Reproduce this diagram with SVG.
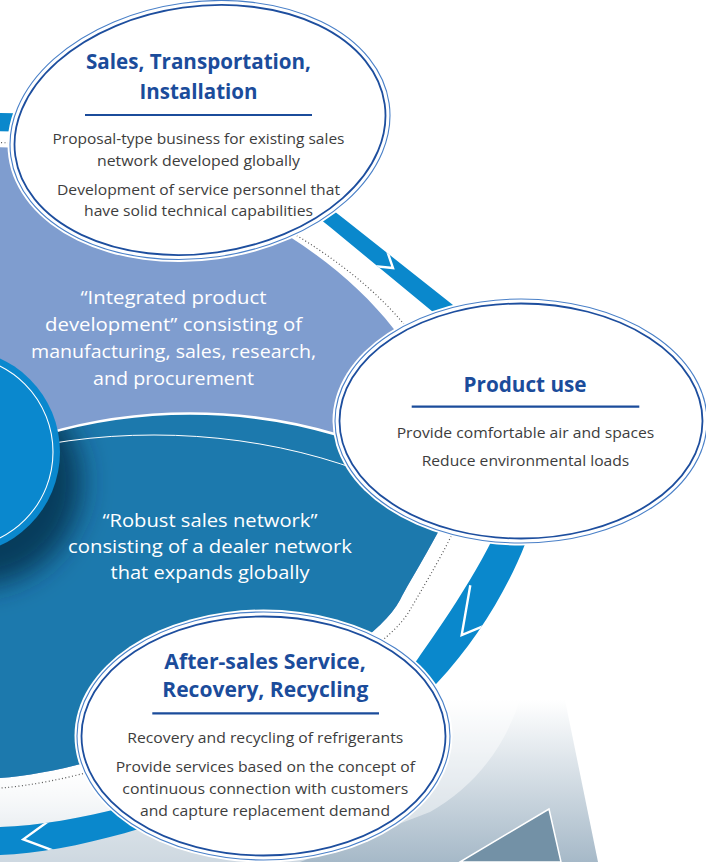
<svg xmlns="http://www.w3.org/2000/svg" width="706" height="862" viewBox="0 0 706 862">
<defs>
<style>
.ttl{font-family:"Open Sans","Noto Sans","Liberation Sans",sans-serif;font-weight:700;font-size:22px;fill:#1B4C9B;text-anchor:middle}
.bd{font-family:"Open Sans","Noto Sans","Liberation Sans",sans-serif;font-weight:400;font-size:15px;fill:#3d3d3d;text-anchor:middle}
.wt{font-family:"Open Sans","Noto Sans","Liberation Sans",sans-serif;font-weight:400;font-size:17.5px;fill:#ffffff;text-anchor:middle}
.rule{stroke:#1B4C9B;stroke-width:2.2}
.halo{fill:#ffffff}
.ro{fill:none;stroke:#4A80C8;stroke-width:1.1}
.ri{fill:none;stroke:#1D4E9E;stroke-width:1.8}
.chev{fill:none;stroke:#ffffff;stroke-width:2.4;stroke-linejoin:miter}
</style>
<linearGradient id="lowbg" gradientUnits="userSpaceOnUse" x1="0" y1="700" x2="0" y2="862">
<stop offset="0" stop-color="#ffffff"/><stop offset="1" stop-color="#A6B9C8"/>
</linearGradient>
<linearGradient id="gapFade" gradientUnits="userSpaceOnUse" x1="0" y1="770" x2="0" y2="835">
<stop offset="0" stop-color="#ffffff" stop-opacity="1"/><stop offset="1" stop-color="#ffffff" stop-opacity="0.4"/>
</linearGradient>
<clipPath id="cDisk"><path d="M -100,150 L -60,150 C 110,130 305,215 393,328 C 423.7,367.5 466,400 466,450 C 466,495 418,565 400,600 C 363,671 120,770 0,778 L -100,780 Z"/></clipPath>
<clipPath id="cDark"><ellipse cx="190" cy="713.5" rx="397" ry="300"/></clipPath>
<clipPath id="cBand"><path clip-rule="evenodd" d="M -100,114 L -60,114 C 40,110 130,118 200,138 C 257.6,154.2 303.8,187 343,218 L 453,305 C 492,336 540,410 540,480 C 540,530 495,622 437,683 C 388.7,733.4 150,850 0,855 L -100,858 Z M -100,132 L -60,132 C 40,128 130,137 195,157 C 247.6,173.2 295.4,198.4 330,227 L 433,312 C 471.5,343.8 512,410 512,478 C 512,525 443,623 417,660 C 374,722 150,822 0,827 L -100,830 Z"/></clipPath>
<filter id="blur" x="-60%" y="-60%" width="220%" height="220%"><feGaussianBlur stdDeviation="14"/></filter>
</defs>

<!-- lower background -->
<path d="M -20,700 L 565,700 L 598,862 L -20,862 Z" fill="url(#lowbg)"/>
<path d="M 520,700 Q 495,775 430,812 L 300,862 L -20,862 L -20,700 Z" fill="#ffffff" fill-opacity="0.45"/>
<path d="M 460,862 L 549,809 L 561,862 Z" fill="#7391A6" stroke="#ffffff" stroke-width="1.5"/>

<!-- gap area inside ring -->
<path d="M -100,132 L -60,132 C 40,128 130,137 195,157 C 247.6,173.2 295.4,198.4 330,227 L 433,312 C 471.5,343.8 512,410 512,478 C 512,525 443,623 417,660 C 374,722 150,822 0,827 L -100,830 Z" fill="url(#gapFade)"/>

<g id="connectors">
<path fill="#0A88CC" fill-rule="evenodd" d="M -100,114 L -60,114 C 40,110 130,118 200,138 C 257.6,154.2 303.8,187 343,218 L 453,305 C 492,336 540,410 540,480 C 540,530 495,622 437,683 C 388.7,733.4 150,850 0,855 L -100,858 Z M -100,132 L -60,132 C 40,128 130,137 195,157 C 247.6,173.2 295.4,198.4 330,227 L 433,312 C 471.5,343.8 512,410 512,478 C 512,525 443,623 417,660 C 374,722 150,822 0,827 L -100,830 Z"/>
<g clip-path="url(#cBand)">
<polyline class="chev" points="384.5,243.4 393,268 367.1,265.4"/>
<polyline class="chev" points="470.3,585.2 461.7,635 498.5,619.8"/>
<polyline class="chev" points="58,814.2 23.3,839.3 60.2,853.2"/>
</g>
</g>

<!-- inner disk -->
<g id="disk">
<path fill="#7F9DCF" d="M -100,150 L -60,150 C 110,130 305,215 393,328 C 423.7,367.5 466,400 466,450 C 466,495 418,565 400,600 C 363,671 120,770 0,778 L -100,780 Z"/>
<g clip-path="url(#cDisk)">
<ellipse cx="190" cy="713.5" rx="397" ry="300" fill="#1C79AD"/>
<g clip-path="url(#cDark)">
<circle cx="-22" cy="482" r="104" fill="#062640" fill-opacity="0.75" filter="url(#blur)"/>
<ellipse cx="154" cy="735" rx="436" ry="300" fill="none" stroke="#ffffff" stroke-width="1"/>
</g>
<ellipse cx="190" cy="713.5" rx="397" ry="300" fill="none" stroke="#ffffff" stroke-width="2.6"/>
</g>
<path d="M -60,145 C 110,125 318,222 402,322 C 431,356.5 479,400 479,450 C 479,497 430,575 410,610 C 370,680 120,780 0,788 L -60,790" fill="none" stroke="#555555" stroke-width="1.2" stroke-dasharray="1 2.4"/>
</g>

<g id="node-center">
<circle cx="-43" cy="452" r="103" fill="#0A88CE"/>
<circle cx="-43" cy="452" r="96" fill="none" stroke="#ffffff" stroke-width="1.1"/>
</g>

<g id="node-integrated">
<text class="wt" x="173.5" y="304" textLength="186" lengthAdjust="spacingAndGlyphs">“Integrated product</text>
<text class="wt" x="173.5" y="331" textLength="257" lengthAdjust="spacingAndGlyphs">development” consisting of</text>
<text class="wt" x="173.5" y="358" textLength="285" lengthAdjust="spacingAndGlyphs">manufacturing, sales, research,</text>
<text class="wt" x="173.5" y="385" textLength="161" lengthAdjust="spacingAndGlyphs">and procurement</text>
</g>

<g id="node-robust">
<text class="wt" x="210" y="527" textLength="215" lengthAdjust="spacingAndGlyphs">“Robust sales network”</text>
<text class="wt" x="210" y="553" textLength="284" lengthAdjust="spacingAndGlyphs">consisting of a dealer network</text>
<text class="wt" x="210" y="579" textLength="199" lengthAdjust="spacingAndGlyphs">that expands globally</text>
</g>

<g id="node-sales">
<g transform="rotate(-8 200 130)">
<ellipse class="halo" cx="200" cy="130" rx="193.5" ry="130.5"/>
<ellipse class="ro" cx="200" cy="130" rx="191" ry="128"/>
<ellipse class="ri" cx="200" cy="130" rx="186.5" ry="123.5"/>
</g>
<text class="ttl" x="198.5" y="68.5" textLength="225" lengthAdjust="spacingAndGlyphs">Sales, Transportation,</text>
<text class="ttl" x="198.5" y="98.5" textLength="118" lengthAdjust="spacingAndGlyphs">Installation</text>
<line class="rule" x1="85" y1="115" x2="312" y2="115"/>
<text class="bd" x="198.5" y="144" textLength="292" lengthAdjust="spacingAndGlyphs">Proposal-type business for existing sales</text>
<text class="bd" x="198.5" y="165.5" textLength="203" lengthAdjust="spacingAndGlyphs">network developed globally</text>
<text class="bd" x="198.5" y="195" textLength="283" lengthAdjust="spacingAndGlyphs">Development of service personnel that</text>
<text class="bd" x="198.5" y="216" textLength="229" lengthAdjust="spacingAndGlyphs">have solid technical capabilities</text>
</g>

<g id="node-product">
<ellipse class="halo" cx="521" cy="421" rx="188.5" ry="124.5"/>
<ellipse class="ro" cx="521" cy="421" rx="186" ry="122"/>
<ellipse class="ri" cx="521" cy="421" rx="181.5" ry="117.5"/>
<text class="ttl" x="525" y="391.7" textLength="123" lengthAdjust="spacingAndGlyphs">Product use</text>
<line class="rule" x1="411.7" y1="406.7" x2="639.3" y2="406.7"/>
<text class="bd" x="525.5" y="438.3" textLength="257.6" lengthAdjust="spacingAndGlyphs">Provide comfortable air and spaces</text>
<text class="bd" x="525.5" y="466" textLength="207.6" lengthAdjust="spacingAndGlyphs">Reduce environmental loads</text>
</g>

<g id="node-aftersales">
<ellipse class="halo" cx="263.5" cy="736" rx="189" ry="126.5"/>
<ellipse class="ro" cx="263.5" cy="736" rx="186.5" ry="124"/>
<ellipse class="ri" cx="263.5" cy="736" rx="182" ry="119.5"/>
<text class="ttl" x="265" y="669.3" textLength="201.4" lengthAdjust="spacingAndGlyphs">After-sales Service,</text>
<text class="ttl" x="265.3" y="697" textLength="206" lengthAdjust="spacingAndGlyphs">Recovery, Recycling</text>
<line class="rule" x1="152.3" y1="713.3" x2="379" y2="713.3"/>
<text class="bd" x="265.3" y="742.7" textLength="276" lengthAdjust="spacingAndGlyphs">Recovery and recycling of refrigerants</text>
<text class="bd" x="265.3" y="771.7" textLength="299.3" lengthAdjust="spacingAndGlyphs">Provide services based on the concept of</text>
<text class="bd" x="265.3" y="794.3" textLength="286" lengthAdjust="spacingAndGlyphs">continuous connection with customers</text>
<text class="bd" x="265" y="815.7" textLength="250" lengthAdjust="spacingAndGlyphs">and capture replacement demand</text>
</g>
</svg>
